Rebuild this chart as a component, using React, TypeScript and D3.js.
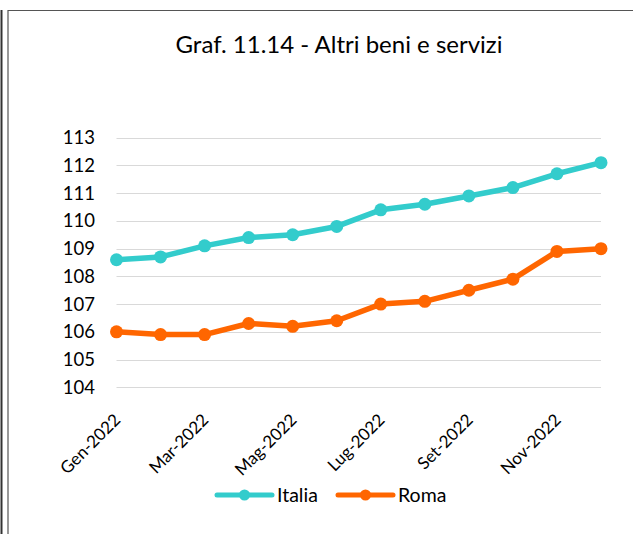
import React, { useEffect, useRef } from "react";
import * as d3 from "d3";

const months = ["Gen-2022", "Feb-2022", "Mar-2022", "Apr-2022", "Mag-2022", "Giu-2022",
  "Lug-2022", "Ago-2022", "Set-2022", "Ott-2022", "Nov-2022", "Dic-2022"];
const italia = [108.6, 108.7, 109.1, 109.4, 109.5, 109.8, 110.4, 110.6, 110.9, 111.2, 111.7, 112.1];
const roma = [106.0, 105.9, 105.9, 106.3, 106.2, 106.4, 107.0, 107.1, 107.5, 107.9, 108.9, 109.0];
const yTicks = [104, 105, 106, 107, 108, 109, 110, 111, 112, 113];
const xLabels = ["Gen-2022", "Mar-2022", "Mag-2022", "Lug-2022", "Set-2022", "Nov-2022"];
const seriesNames = ["Italia", "Roma"];
const seriesColors = ["#33CCCC", "#FF6600"];

const App = () => {
  const ref = useRef<SVGSVGElement>(null);

  useEffect(() => {
    const width = 633, height = 534;
    const font = "Lato, sans-serif";
    const svg = d3.select(ref.current)
      .attr("width", width)
      .attr("height", height)
      .attr("font-family", font);
    svg.selectAll("*").remove();

    // frame
    svg.append("line").attr("x1", 1.5).attr("x2", 1.5).attr("y1", 10).attr("y2", height)
      .attr("stroke", "#333").attr("stroke-width", 2);
    svg.append("path").attr("d", `M8,${height}V10.5H${width}`)
      .attr("fill", "none").attr("stroke", "#555").attr("stroke-width", 1.2);

    svg.append("text")
      .attr("x", 339).attr("y", 53)
      .attr("text-anchor", "middle")
      .attr("font-size", 24)
      .attr("fill", "#000")
      .text("Graf. 11.14 - Altri beni e servizi");

    const x = d3.scalePoint<string>().domain(months).range([116.5, 601]);
    const y = d3.scaleLinear().domain([104, 113]).range([387.3, 137.7]);

    // grid
    svg.append("g").selectAll("line").data(yTicks).join("line")
      .attr("x1", 116.5).attr("x2", 601)
      .attr("y1", d => Math.round(y(d)) + 0.5).attr("y2", d => Math.round(y(d)) + 0.5)
      .attr("stroke", "#D9D9D9").attr("stroke-width", 1);

    svg.append("g").selectAll("text").data(yTicks).join("text")
      .attr("x", 95).attr("y", d => y(d)).attr("dy", "0.35em")
      .attr("text-anchor", "end").attr("font-size", 18.5).attr("fill", "#000")
      .text(d => d);

    svg.append("g").selectAll("text").data(xLabels).join("text")
      .attr("transform", d => `translate(${(x(d) as number) + 5},421) rotate(-45)`)
      .attr("text-anchor", "end").attr("font-size", 17).attr("fill", "#000")
      .text(d => d);

    const line = d3.line<number>().x((_, i) => x(months[i]) as number).y(d => y(d));
    [italia, roma].forEach((vals, k) => {
      const g = svg.append("g");
      g.append("path").datum(vals).attr("d", line)
        .attr("fill", "none").attr("stroke", seriesColors[k])
        .attr("stroke-width", 5.5).attr("stroke-linejoin", "round").attr("stroke-linecap", "round");
      g.selectAll("circle").data(vals).join("circle")
        .attr("cx", (_, i) => x(months[i]) as number).attr("cy", d => y(d))
        .attr("r", 6.5).attr("fill", seriesColors[k]);
    });

    // legend
    const legendX = [217, 338];
    seriesNames.forEach((name, k) => {
      const lx = legendX[k];
      const lg = svg.append("g");
      lg.append("line").attr("x1", lx).attr("x2", lx + 55).attr("y1", 495).attr("y2", 495)
        .attr("stroke", seriesColors[k]).attr("stroke-width", 5).attr("stroke-linecap", "round");
      lg.append("circle").attr("cx", lx + 27.5).attr("cy", 495).attr("r", 5.5).attr("fill", seriesColors[k]);
      lg.append("text").attr("x", lx + 60).attr("y", 495).attr("dy", "0.35em")
        .attr("font-size", 19.5).attr("fill", "#000").text(name);
    });
  }, []);

  return (
    <svg ref={ref} style={{ position: "absolute", left: 0, top: 0, background: "#fff" }}></svg>
  );
};

export default App;
